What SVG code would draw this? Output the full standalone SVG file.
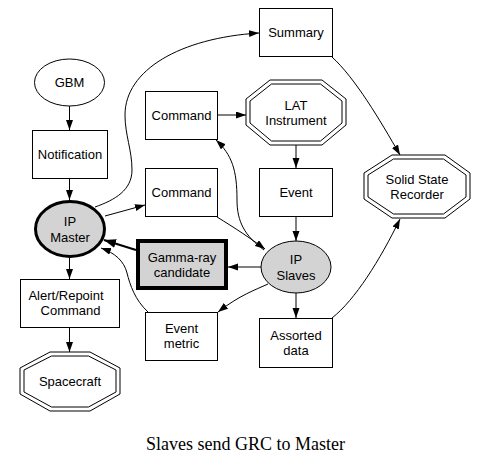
<svg xmlns="http://www.w3.org/2000/svg" width="487" height="467" viewBox="0 0 487 467">
<style>
.n{fill:#fff;stroke:#000;stroke-width:1}
.g{fill:#d3d3d3;stroke:#000}
.t{font-family:"Liberation Sans",Arial,sans-serif;font-size:13px;fill:#000;text-anchor:middle}
.e{fill:none;stroke:#000;stroke-width:1}
.ek{fill:none;stroke:#000;stroke-width:2}
.cap{font-family:"Liberation Serif","Times New Roman",serif;font-size:18px;fill:#000;text-anchor:middle}
</style>
<defs>
<marker id="a" markerWidth="11" markerHeight="8" refX="10" refY="3.5" orient="auto" markerUnits="userSpaceOnUse">
<path d="M0,0 L10,3.5 L0,7 Z" fill="#000"/>
</marker>
<marker id="ak" markerWidth="13" markerHeight="10" refX="12" refY="4.5" orient="auto" markerUnits="userSpaceOnUse">
<path d="M0,0 L12,4.5 L0,9 Z" fill="#000"/>
</marker>
</defs>
<rect width="487" height="467" fill="#fff"/>
<g id="edges">
<path class="e" d="M69.5,106 L69.5,130" marker-end="url(#a)"/>
<path class="e" d="M69.5,178 L69.5,200" marker-end="url(#a)"/>
<path class="e" d="M95,207 C115,200 132,190 132,170 C132,150 125,135 125,115 C125,70 180,38 259,33" marker-end="url(#a)"/>
<path class="e" d="M105,216 L145,205" marker-end="url(#a)"/>
<path class="e" d="M69.5,258 L69.5,279" marker-end="url(#a)"/>
<path class="e" d="M69.5,327 L69.5,352" marker-end="url(#a)"/>
<path class="e" d="M217,115 L246,115" marker-end="url(#a)"/>
<path class="e" d="M296,145 L296,168" marker-end="url(#a)"/>
<path class="e" d="M296,217 L296,241" marker-end="url(#a)"/>
<path class="e" d="M264,250 C245,236 237,222 237,200 C237,170 232,155 216,140" marker-end="url(#a)"/>
<path class="e" d="M217,217 C235,228 250,238 265,249" marker-end="url(#a)"/>
<path class="e" d="M261,267 L228,267" marker-end="url(#a)"/>
<path class="ek" d="M136,250 L104,240" marker-end="url(#ak)"/>
<path class="e" d="M148,312 C135,300 130,285 127,273 C124,261 115,253 101,248" marker-end="url(#a)"/>
<path class="e" d="M268,284 C255,290 240,295 218,312" marker-end="url(#a)"/>
<path class="e" d="M296,293 L296,318" marker-end="url(#a)"/>
<path class="e" d="M332,318 C355,300 380,260 400,219" marker-end="url(#a)"/>
<path class="e" d="M332,57 C355,78 380,120 400,155" marker-end="url(#a)"/>
</g>
<g id="gbm">
<ellipse class="n" cx="69.5" cy="82.5" rx="35" ry="23.5"/>
<text class="t" x="69.5" y="87">GBM</text>
</g>
<g id="notification">
<rect class="n" x="32.5" y="130.5" width="75" height="48"/>
<text class="t" x="70" y="159">Notification</text>
</g>
<g id="ipmaster">
<ellipse class="g" cx="70" cy="229" rx="34.5" ry="27.5" stroke-width="3"/>
<text class="t" x="70" y="226">IP</text>
<text class="t" x="70" y="242">Master</text>
</g>
<g id="alert">
<rect class="n" x="20.5" y="279.5" width="99" height="48"/>
<text class="t" x="66" y="299.5">Alert/Repoint</text>
<text class="t" x="70.5" y="314.5">Command</text>
</g>
<g id="spacecraft">
<polygon class="n" points="50,352 90,352 120,368 120,394 90,411 50,411 20,394 20,368"/>
<polygon class="n" points="51.5,356 88.5,356 116,370 116,392 88.5,407 51.5,407 24,392 24,370"/>
<text class="t" x="70" y="386">Spacecraft</text>
</g>
<g id="command1">
<rect class="n" x="145.5" y="91.5" width="72" height="48"/>
<text class="t" x="181.5" y="119.5">Command</text>
</g>
<g id="command2">
<rect class="n" x="145.5" y="168.5" width="72" height="48"/>
<text class="t" x="181.5" y="197">Command</text>
</g>
<g id="gamma">
<rect class="g" x="138" y="241" width="88" height="47" stroke-width="4"/>
<text class="t" x="182" y="261.5">Gamma-ray</text>
<text class="t" x="182" y="276.5">candidate</text>
</g>
<g id="eventmetric">
<rect class="n" x="145.5" y="312.5" width="72" height="48"/>
<text class="t" x="181.5" y="332.5">Event</text>
<text class="t" x="181.5" y="347.5">metric</text>
</g>
<g id="summary">
<rect class="n" x="259.5" y="8.5" width="73" height="48"/>
<text class="t" x="296" y="37">Summary</text>
</g>
<g id="lat">
<polygon class="n" points="270,80 322,80 346,99 346,125 322,145 270,145 246,125 246,99"/>
<polygon class="n" points="271.5,84 320.5,84 342,101 342,123 320.5,141 271.5,141 250,123 250,101"/>
<text class="t" x="296" y="109.5">LAT</text>
<text class="t" x="296" y="124.5">Instrument</text>
</g>
<g id="event">
<rect class="n" x="259.5" y="168.5" width="73" height="48"/>
<text class="t" x="296" y="197">Event</text>
</g>
<g id="ssr">
<polygon class="n" points="392,155 445,155 470,173 470,199 445,218 392,218 364,199 364,173"/>
<polygon class="n" points="393.5,159 443.5,159 466,175 466,197 443.5,214 393.5,214 368,197 368,175"/>
<text class="t" x="417" y="183.5">Solid State</text>
<text class="t" x="417" y="198.5">Recorder</text>
</g>
<g id="ipslaves">
<ellipse class="g" cx="296" cy="267" rx="35" ry="26" stroke-width="1"/>
<text class="t" x="296" y="263.5">IP</text>
<text class="t" x="296" y="279.5">Slaves</text>
</g>
<g id="assorted">
<rect class="n" x="259.5" y="318.5" width="73" height="49"/>
<text class="t" x="296" y="339.5">Assorted</text>
<text class="t" x="296" y="354.5">data</text>
</g>
<text class="cap" x="245.5" y="450">Slaves send GRC to Master</text>
</svg>
